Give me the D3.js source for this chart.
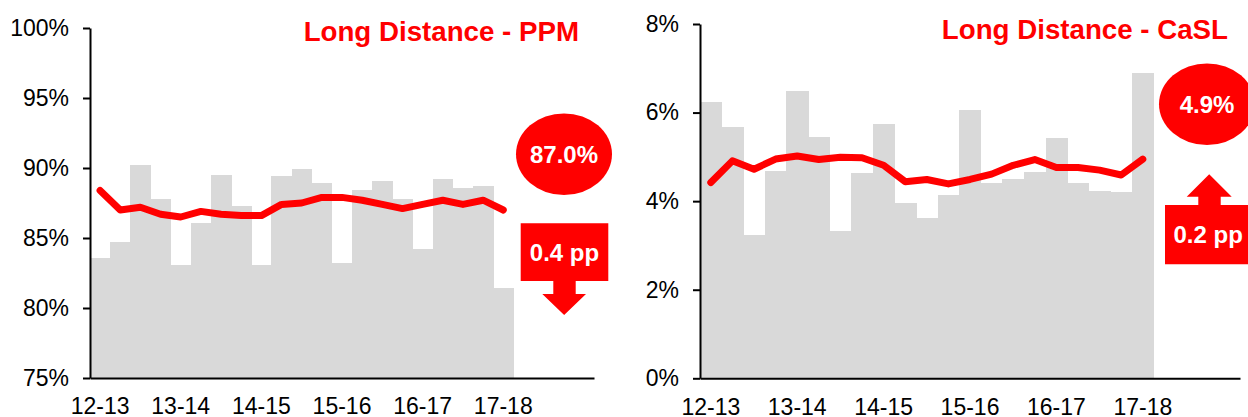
<!DOCTYPE html>
<html>
<head>
<meta charset="utf-8">
<script src="https://cdn.jsdelivr.net/npm/d3@7/dist/d3.min.js"></script>
<style>
  html, body { margin: 0; padding: 0; background: #fff; }
  svg { display: block; font-family: "Liberation Sans", Arial, sans-serif; }
</style>
</head>
<body>
<svg id="chart" width="1248" height="417"></svg>
<script>
// ---------- DATA ----------
// 21 periods, labelled every 4th period
const periodLabels = ["12-13","","","","13-14","","","","14-15","","","","15-16","","","","16-17","","","","17-18"];

// Long Distance - PPM (%)
const ppmBars = [83.6, 84.7, 90.2, 87.8, 83.1, 86.1, 89.5, 87.3, 83.1, 89.4, 89.9,
                 88.9, 83.2, 88.4, 89.1, 87.8, 84.2, 89.2, 88.6, 88.7, 81.4];
const ppmMAA  = [88.4, 87.0, 87.2, 86.7, 86.5, 86.9, 86.7, 86.6, 86.6, 87.4, 87.5,
                 87.9, 87.9, 87.7, 87.4, 87.1, 87.4, 87.7, 87.4, 87.7, 87.0];
const ppmTicks = [75, 80, 85, 90, 95, 100];

// Long Distance - CaSL (%)
const caslBars = [6.24, 5.67, 3.23, 4.67, 6.49, 5.45, 3.33, 4.63, 5.74, 3.96, 3.62,
                  4.15, 6.06, 4.42, 4.49, 4.66, 5.42, 4.42, 4.23, 4.21, 6.90];
const caslMAA  = [4.42, 4.91, 4.72, 4.95, 5.02, 4.94, 4.99, 4.98, 4.81, 4.44, 4.49,
                  4.39, 4.49, 4.61, 4.81, 4.94, 4.76, 4.76, 4.70, 4.59, 4.95];
const caslTicks = [0, 2, 4, 6, 8];

const titles = ["Long Distance - PPM", "Long Distance - CaSL"];
const currentValues = ["87.0%", "4.9%"];
const changeValues = ["0.4 pp", "0.2 pp"];
const changeDirection = ["down", "up"];

// ---------- LAYOUT ----------
const SLOTS = 25; // x-axis slots (21 used)
const RED = "#ff0000", BAR = "#d9d9d9";
const svg = d3.select("#chart");

const panels = [
  { bars: ppmBars, line: ppmMAA, ticks: ppmTicks, domain: [75, 100],
    left: 90, right: 594, top: 28, bottom: 378,
    title: titles[0], titleX: 579, titleY: 41,
    value: currentValues[0], change: changeValues[0], dir: changeDirection[0],
    ell: { cx: 564, cy: 154.2, rx: 48, ry: 40.8 },
    arrow: { bx0: 520.7, bx1: 608.3, by0: 223.3, by1: 281, sx0: 553.3, sx1: 575.7,
             hx0: 542.3, hx1: 586, hy0: 294, hy1: 315, textY: 261 } },
  { bars: caslBars, line: caslMAA, ticks: caslTicks, domain: [0, 8],
    left: 700, right: 1240, top: 24, bottom: 378.3,
    title: titles[1], titleX: 1228, titleY: 38.5,
    value: currentValues[1], change: changeValues[1], dir: changeDirection[1],
    ell: { cx: 1207, cy: 104.2, rx: 48, ry: 40.8 },
    arrow: { bx0: 1165, bx1: 1252.7, by0: 205, by1: 264.3, sx0: 1198.3, sx1: 1220.7,
             hx0: 1186.7, hx1: 1231.7, hy0: 196.7, hy1: 174.3, textY: 243 } }
];

panels.forEach(p => {
  const g = svg.append("g");
  const x = d3.scaleBand().domain(d3.range(SLOTS)).range([p.left, p.right]).padding(0);
  const y = d3.scaleLinear().domain(p.domain).range([p.bottom, p.top]);

  // bars
  g.append("g").attr("shape-rendering", "crispEdges")
    .selectAll("rect").data(p.bars).join("rect")
    .attr("x", (d, i) => x(i))
    .attr("width", x.bandwidth() + 0.5)
    .attr("y", d => y(d))
    .attr("height", d => y(p.domain[0]) - y(d))
    .attr("fill", BAR);

  // line
  const line = d3.line().x((d, i) => x(i) + x.bandwidth() / 2).y(d => y(d));
  g.append("path").datum(p.line)
    .attr("d", line)
    .attr("fill", "none")
    .attr("stroke", RED)
    .attr("stroke-width", 7)
    .attr("stroke-linecap", "round")
    .attr("stroke-linejoin", "round");

  // y axis
  const yAxis = d3.axisLeft(y).tickValues(p.ticks).tickFormat(d => d + "%")
    .tickSize(7).tickSizeOuter(0).tickPadding(14);
  const ya = g.append("g").attr("transform", `translate(${p.left},0)`).call(yAxis);
  ya.selectAll("path, line").attr("stroke", "#000").attr("stroke-width", 2);
  ya.selectAll("text").attr("font-size", "23px").attr("fill", "#000")
    .attr("font-family", "'Liberation Sans', Arial, sans-serif");

  // x axis
  const xAxis = d3.axisBottom(x)
    .tickValues(d3.range(periodLabels.length).filter(i => periodLabels[i] !== ""))
    .tickFormat(i => periodLabels[i])
    .tickSize(0).tickSizeOuter(0).tickPadding(20);
  const xa = g.append("g").attr("transform", `translate(0,${p.bottom})`).call(xAxis);
  xa.select("path").attr("stroke", "#000").attr("stroke-width", 2);
  xa.selectAll("text").attr("font-size", "23px").attr("fill", "#000")
    .attr("font-family", "'Liberation Sans', Arial, sans-serif");

  // title
  g.append("text").attr("x", p.titleX).attr("y", p.titleY)
    .attr("text-anchor", "end").attr("font-size", "27.7px").attr("font-weight", "bold")
    .attr("fill", RED).text(p.title);

  // current value ellipse
  g.append("ellipse").attr("cx", p.ell.cx).attr("cy", p.ell.cy)
    .attr("rx", p.ell.rx).attr("ry", p.ell.ry).attr("fill", RED);
  g.append("text").attr("x", p.ell.cx).attr("y", p.ell.cy + 8.6)
    .attr("text-anchor", "middle").attr("font-size", "24px").attr("font-weight", "bold")
    .attr("fill", "#fff").text(p.value);

  // change arrow
  const a = p.arrow;
  const apexX = (a.hx0 + a.hx1) / 2;
  const pts = p.dir === "down"
    ? [[a.bx0,a.by0],[a.bx1,a.by0],[a.bx1,a.by1],[a.sx1,a.by1],[a.sx1,a.hy0],[a.hx1,a.hy0],
       [apexX,a.hy1],[a.hx0,a.hy0],[a.sx0,a.hy0],[a.sx0,a.by1],[a.bx0,a.by1]]
    : [[a.bx0,a.by1],[a.bx1,a.by1],[a.bx1,a.by0],[a.sx1,a.by0],[a.sx1,a.hy0],[a.hx1,a.hy0],
       [apexX,a.hy1],[a.hx0,a.hy0],[a.sx0,a.hy0],[a.sx0,a.by0],[a.bx0,a.by0]];
  g.append("path").attr("d", "M" + pts.map(q => q.join(",")).join("L") + "Z").attr("fill", RED);
  g.append("text").attr("x", p.dir === "down" ? (a.bx0 + a.bx1) / 2 : apexX - 1).attr("y", a.textY)
    .attr("text-anchor", "middle").attr("font-size", "24px").attr("font-weight", "bold")
    .attr("fill", "#fff").text(p.change);
});
</script>
</body>
</html>
